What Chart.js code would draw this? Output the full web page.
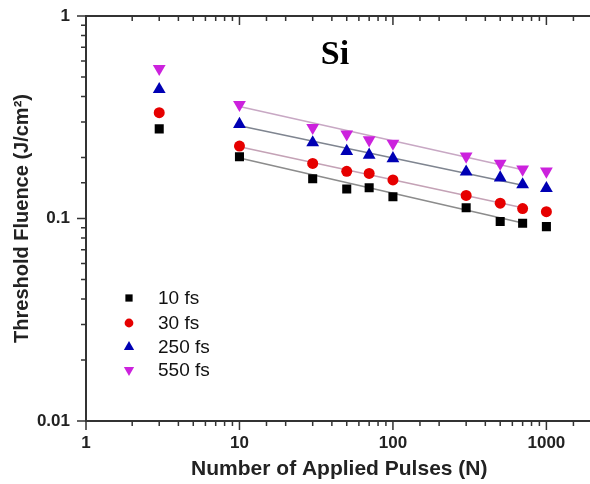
<!DOCTYPE html>
<html>
<head>
<meta charset="utf-8">
<script src="https://cdn.jsdelivr.net/npm/chart.js@4/dist/chart.umd.min.js"></script>
<style>
  html, body { margin: 0; padding: 0; background: #fff; overflow: hidden; }
  #wrap { position: relative; width: 600px; height: 484px; }
  #si { position: absolute; left: 295px; top: 34px; width: 80px; text-align: center;
        font: bold 34px "Liberation Serif", "Times New Roman", serif; color: #000; }
</style>
</head>
<body>
<div id="wrap">
  <canvas id="c" width="600" height="484"></canvas>
  <div id="si">Si</div>
</div>
<script>
const pulses = [3, 10, 30, 50, 70, 100, 300, 500, 700, 1000];
const fs10  = [0.277, 0.202, 0.157, 0.140, 0.142, 0.128, 0.113, 0.0966, 0.0948, 0.0912];
const fs30  = [0.333, 0.228, 0.187, 0.171, 0.167, 0.155, 0.130, 0.119, 0.112, 0.108];
const fs250 = [0.434, 0.292, 0.237, 0.215, 0.206, 0.198, 0.170, 0.159, 0.147, 0.141];
const fs550 = [0.550, 0.365, 0.281, 0.261, 0.244, 0.235, 0.203, 0.187, 0.175, 0.171];

const fitX   = [10, 700];
const fit10  = [0.199, 0.095];
const fit30  = [0.226, 0.113];
const fit250 = [0.287, 0.146];
const fit550 = [0.357, 0.174];

const seriesNames = ['10 fs', '30 fs', '250 fs', '550 fs'];
const xTickLabels = ['1', '10', '100', '1000'];
const yTickLabels = ['0.01', '0.1', '1'];

const toPts = (xs, ys) => xs.map((x, i) => ({x: x, y: ys[i]}));

const FONT = '"Liberation Sans", Arial, sans-serif';

function markerDs(label, ys, color, style, radius, rotation) {
  return {
    label: label, data: toPts(pulses, ys), showLine: false,
    pointStyle: style, pointRadius: radius, pointHoverRadius: radius,
    pointRotation: rotation || 0,
    backgroundColor: color, borderColor: color, pointBorderWidth: 0, borderWidth: 0,
    order: 1
  };
}
function fitDs(ys, color) {
  return {
    label: '', data: toPts(fitX, ys), showLine: true, pointRadius: 0,
    borderColor: color, borderWidth: 1.6, backgroundColor: color, order: 2
  };
}

const markers = [
  markerDs(seriesNames[0], fs10,  '#000000', 'rect', 6.4),
  markerDs(seriesNames[1], fs30,  '#e60000', 'circle', 5.5),
  markerDs(seriesNames[2], fs250, '#0000b4', 'triangle', 7.4),
  markerDs(seriesNames[3], fs550, '#cc22dd', 'triangle', 7.4, 180)
];

function isDecade(v) {
  const l = Math.log10(v);
  return Math.abs(l - Math.round(l)) < 1e-6;
}

const legendPlugin = {
  id: 'innerLegend',
  afterDraw(chart) {
    const ctx = chart.ctx, ca = chart.chartArea;
    const rows = [282, 307, 331, 354];
    ctx.save();
    markers.forEach((m, i) => {
      const y = ca.top + rows[i];
      const x = ca.left + 43;
      ctx.fillStyle = m.backgroundColor;
      ctx.strokeStyle = m.backgroundColor;
      Chart.helpers.drawPoint(ctx, {pointStyle: m.pointStyle, radius: m.pointRadius * 0.8,
        rotation: m.pointRotation, borderWidth: 0}, x, y);
      ctx.fillStyle = '#111';
      ctx.font = '19px ' + FONT;
      ctx.textBaseline = 'middle';
      ctx.textAlign = 'left';
      ctx.fillText(m.label, ca.left + 72, y + 1);
    });
    ctx.restore();
  }
};

const framePlugin = {
  id: 'frame',
  afterDatasetsDraw(chart) {
    const ctx = chart.ctx, ca = chart.chartArea;
    const xs = chart.scales.x, ys = chart.scales.y;
    ctx.save();
    ctx.strokeStyle = '#333';
    ctx.lineWidth = 2;
    ctx.beginPath();
    ctx.moveTo(ca.left, ca.top); ctx.lineTo(ca.right, ca.top);
    ctx.lineTo(ca.right, ca.bottom);
    ctx.stroke();
    ctx.lineWidth = 1.5;
    ctx.beginPath();
    xs.ticks.forEach(t => {
      const px = xs.getPixelForValue(t.value);
      const len = isDecade(t.value) ? 9 : 5;
      ctx.moveTo(px, ca.bottom); ctx.lineTo(px, ca.bottom + len);
      ctx.moveTo(px, ca.top); ctx.lineTo(px, ca.top + len);
    });
    ys.ticks.forEach(t => {
      const py = ys.getPixelForValue(t.value);
      const len = isDecade(t.value) ? 9 : 5;
      ctx.moveTo(ca.left, py); ctx.lineTo(ca.left - len, py);
      ctx.moveTo(ca.right, py); ctx.lineTo(ca.right + len, py);
    });
    ctx.stroke();
    ctx.restore();
  }
};

function noPad(s) { s.paddingTop = 0; s.paddingBottom = 0; s.paddingLeft = 0; s.paddingRight = 0; }

new Chart(document.getElementById('c'), {
  type: 'scatter',
  data: {
    datasets: [
      fitDs(fit10, '#8c8c8c'),
      fitDs(fit30, '#c4a2b6'),
      fitDs(fit250, '#7f8590'),
      fitDs(fit550, '#c8a8c4'),
      ...markers
    ]
  },
  plugins: [legendPlugin, framePlugin],
  options: {
    responsive: false,
    animation: false,
    events: [],
    layout: { padding: { left: 0, right: 2, top: 16, bottom: 0 } },
    plugins: { legend: { display: false }, tooltip: { enabled: false }, title: { display: false } },
    scales: {
      x: {
        type: 'logarithmic', position: 'bottom', min: 1, max: 2000,
        border: { display: true, color: '#333', width: 2 },
        grid: { drawOnChartArea: false, drawTicks: false },
        ticks: {
          autoSkip: false, maxRotation: 0, padding: 12, color: '#222',
          font: { family: FONT, size: 17, weight: 'bold' },
          callback: function (v) {
            if (!isDecade(v)) return '';
            const e = Math.round(Math.log10(v));
            return xTickLabels[e] !== undefined ? xTickLabels[e] : '';
          }
        },
        title: { display: true, text: 'Number of Applied Pulses (N)', color: '#222',
                 font: { family: FONT, size: 21, weight: 'bold' }, padding: { top: 0, bottom: 2 } },
        afterFit: s => { s.height = 63; noPad(s); }
      },
      y: {
        type: 'logarithmic', position: 'left', min: 0.01, max: 1,
        border: { display: true, color: '#333', width: 2 },
        grid: { drawOnChartArea: false, drawTicks: false },
        ticks: {
          autoSkip: false, padding: 16, color: '#222',
          font: { family: FONT, size: 17, weight: 'bold' },
          callback: function (v) {
            if (!isDecade(v)) return '';
            const e = Math.round(Math.log10(v)) + 2;
            return yTickLabels[e] !== undefined ? yTickLabels[e] : '';
          }
        },
        title: { display: true, text: 'Threshold Fluence (J/cm²)', color: '#222',
                 font: { family: FONT, size: 20, weight: 'bold' }, padding: { top: 10, bottom: 0 } },
        afterFit: s => { s.width = 86; noPad(s); }
      }
    }
  }
});
</script>
</body>
</html>
